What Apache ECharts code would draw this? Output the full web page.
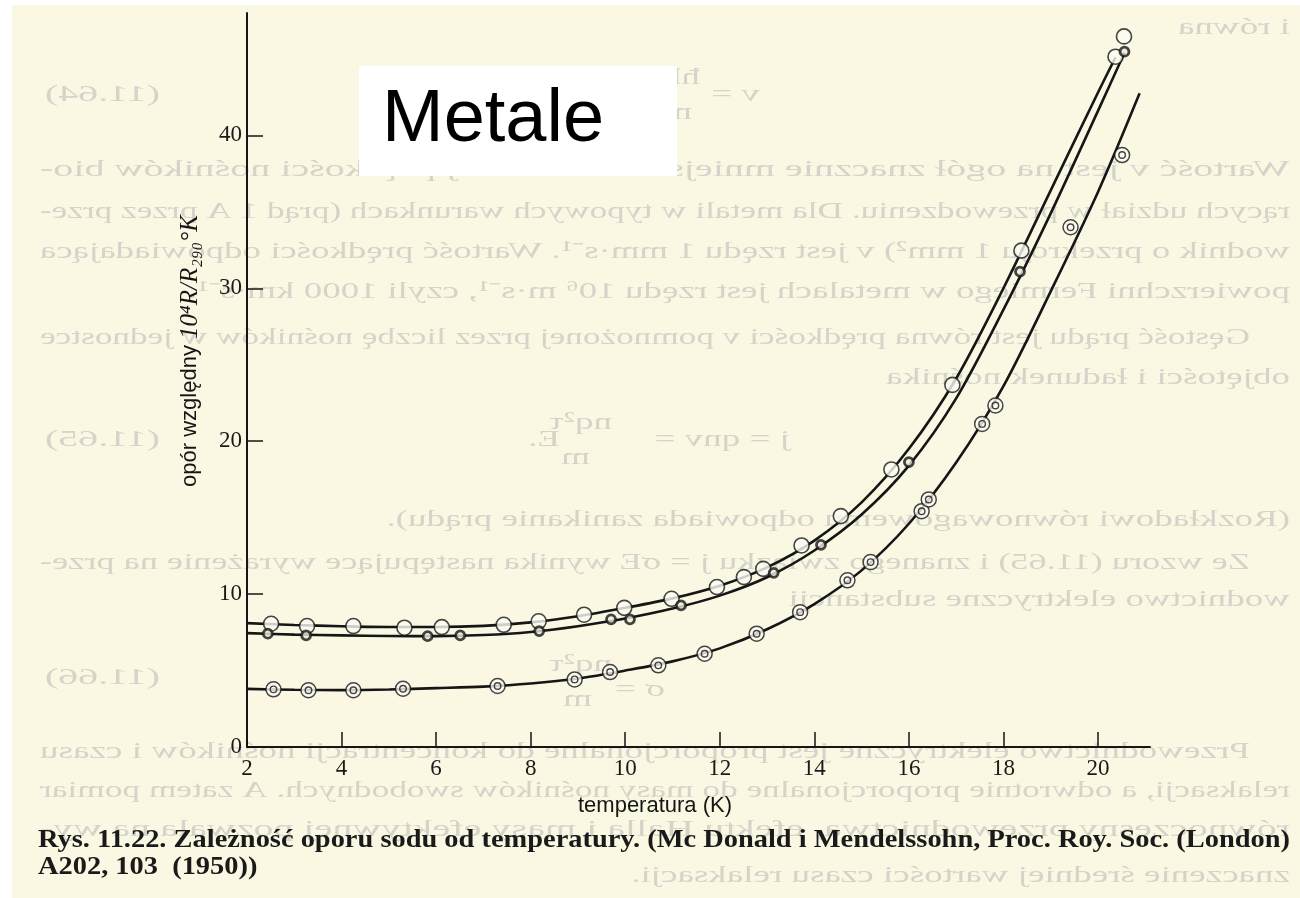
<!DOCTYPE html>
<html><head><meta charset="utf-8">
<script src="https://cdn.jsdelivr.net/npm/echarts@6/dist/echarts.min.js"></script>
<style>html,body{margin:0;padding:0;background:#fff}#c{width:1300px;height:898px}</style>
</head><body><div id="c"></div>
<script>
// ---- data (temperature K, relative resistance 10^4 R/R290K) ----
const xTicks = [2, 4, 6, 8, 10, 12, 14, 16, 18, 20];
const yTicks = [0, 10, 20, 30, 40];

// drawn smooth curves
const curveA = [[2,8.1],[3,7.98],[4,7.9],[5,7.85],[6,7.85],[7,7.92],[8,8.15],[9,8.55],[10,9.1],[11,9.72],[12,10.55],[13,11.75],[14,13.5],[15,16.0],[16,19.5],[17,24.1],[18,30.0],[19,36.4],[20,42.8],[20.37,45.1]];
const curveB = [[2,7.45],[3,7.35],[4,7.3],[5,7.26],[6,7.25],[7,7.32],[8,7.52],[9,7.9],[10,8.4],[11,9.05],[12,9.9],[13,11.1],[14,12.85],[15,15.2],[16,18.4],[17,22.8],[18,28.6],[19,34.9],[20,41.6],[20.56,45.4]];
const curveC = [[2,3.8],[3,3.74],[4,3.72],[5,3.76],[6,3.85],[7,3.95],[8,4.15],[9,4.48],[10,5.0],[11,5.6],[12,6.45],[13,7.7],[14,9.35],[15,11.55],[16,14.6],[17,18.6],[18,23.6],[19,29.8],[20,36.3],[20.88,42.75]];

// measured points
const pointsA = [[2.51,8.06],[3.27,7.91],[4.25,7.91],[5.33,7.8],[6.12,7.84],[7.43,7.99],[8.17,8.22],[9.13,8.65],[9.98,9.1],[10.98,9.69],[11.94,10.46],[12.51,11.11],[12.92,11.65],[13.73,13.18],[14.56,15.1],[15.63,18.15],[16.92,23.68],[18.38,32.46],[20.37,45.14],[20.55,46.47]];
const pointsB = [[2.44,7.41],[3.25,7.3],[5.82,7.25],[6.51,7.3],[8.18,7.58],[9.7,8.35],[10.1,8.35],[11.18,9.26],[13.14,11.39],[14.14,13.22],[16.0,18.63],[18.35,31.09],[20.56,45.47]];
const pointsC = [[2.56,3.77],[3.3,3.71],[4.25,3.71],[5.3,3.81],[7.3,3.99],[8.93,4.42],[9.68,4.9],[10.7,5.34],[11.68,6.1],[12.78,7.41],[13.7,8.82],[14.7,10.9],[15.19,12.09],[16.27,15.42],[16.42,16.19],[17.55,21.13],[17.83,22.33],[19.42,33.99],[20.51,38.71]];

// texts
const yTitleA = 'opór względny ';
const yTitleB = '10⁴R/R₂₉₀°K';
const xTitle = 'temperatura (K)';
const boxTitle = 'Metale';
const caption1 = 'Rys. 11.22. Zależność oporu sodu od temperatury. (Mc Donald i Mendelssohn, Proc. Roy. Soc. (London)';
const caption2 = 'A202, 103  (1950))';

// faint show-through text of the reverse page (mirrored)
const backLines = [
  ['i równa', 28, 1290, 0],
  ['(11.64)', 95, 160, 115],
  ['Wartość v jest na ogół znacznie mniejsza od średniej prędkości nośników bio-', 170, 1290, 1250],
  ['rących udział w przewodzeniu. Dla metali w typowych warunkach (prąd 1 A przez prze-', 212, 1290, 1250],
  ['wodnik o przekroju 1 mm²) v jest rzędu 1 mm·s⁻¹. Wartość prędkości odpowiadająca', 252, 1290, 1250],
  ['powierzchni Fermiego w metalach jest rzędu 10⁶ m·s⁻¹, czyli 1000 km·s⁻¹.', 292, 1290, 0],
  ['Gęstość prądu jest równa prędkości v pomnożonej przez liczbę nośników w jednostce', 338, 1250, 1210],
  ['objętości i ładunek nośnika', 378, 1290, 0],
  ['(11.65)', 440, 160, 115],
  ['j = qnv =', 440, 790, 0],
  ['E.', 440, 560, 0],
  ['(Rozkładowi równowagowemu odpowiada zanikanie prądu).', 520, 1290, 0],
  ['Ze wzoru (11.65) i znanego związku j = σE wynika następujące wyrażenie na prze-', 563, 1250, 1210],
  ['wodnictwo elektryczne substancji', 600, 1290, 0],
  ['(11.66)', 678, 160, 115],
  ['σ =', 690, 665, 0],
  ['Przewodnictwo elektryczne jest proporcjonalne do koncentracji nośników i czasu', 752, 1250, 1210],
  ['relaksacji, a odwrotnie proporcjonalne do masy nośników swobodnych. A zatem pomiar', 791, 1290, 1250],
  ['równoczesny przewodnictwa, efektu Halla i masy efektywnej pozwala na wy-', 830, 1290, 1250],
  ['znaczenie średniej wartości czasu relaksacji.', 876, 1290, 0]
];
const backFrac = [['nq²τ', 423, 612], ['m', 458, 590], ['nq²τ', 665, 612], ['m', 700, 592], ['ħk', 78, 700], ['m', 113, 692], ['v =', 95, 760]];

// ---- helpers ----
const mctx = document.createElement('canvas').getContext('2d');
function tw(t, font) { mctx.font = font; return mctx.measureText(t).width; }
const BF = '24px "Liberation Serif"';
const BCOL = '#d4d4cb';
let ks = [];
backLines.forEach(l => { if (l[3] > 200) ks.push(l[3] / tw(l[0], BF)); });
const kAvg = ks.reduce((a, b) => a + b, 0) / ks.length;

const graphics = [];
graphics.push({type:'rect', shape:{x:0,y:0,width:12,height:898}, style:{fill:'#ffffff'}, z:-5, silent:true});
graphics.push({type:'rect', shape:{x:0,y:0,width:1300,height:5}, style:{fill:'#ffffff'}, z:-5, silent:true});
backLines.forEach(l => {
  const w = tw(l[0], BF);
  const k = l[3] > 0 ? l[3] / w : kAvg;
  graphics.push({type:'text', x:l[2], y:l[1], scaleX:-k, z:-4, silent:true,
    style:{text:l[0], font:BF, fill:BCOL, textAlign:'left', textVerticalAlign:'middle'}});
});
backFrac.forEach(f => {
  graphics.push({type:'text', x:f[2], y:f[1], scaleX:-kAvg, z:-4, silent:true,
    style:{text:f[0], font:BF, fill:BCOL, textAlign:'left', textVerticalAlign:'middle'}});
});
// Metale box
graphics.push({type:'rect', shape:{x:359,y:66,width:318,height:110}, style:{fill:'#ffffff'}, z:10, silent:true});
graphics.push({type:'text', x:382, y:121, z:11, silent:true,
  style:{text:boxTitle, font:'74px "Liberation Sans"', fill:'#000', textAlign:'left', textVerticalAlign:'middle'}});
// y title
graphics.push({type:'text', x:190, y:351, rotation:Math.PI/2, z:5, silent:true,
  style:{text:'{a|' + yTitleA + '}{b|' + yTitleB + '}', textAlign:'center', textVerticalAlign:'middle',
    rich:{a:{fontFamily:'Liberation Sans', fontSize:22, fill:'#151515'},
          b:{fontFamily:'Liberation Serif', fontStyle:'italic', fontSize:25, fill:'#151515'}}}});
// x title
graphics.push({type:'text', x:655, y:806, z:5, silent:true,
  style:{text:xTitle, font:'22px "Liberation Sans"', fill:'#151515', textAlign:'center', textVerticalAlign:'middle'}});
// caption
const CF = 'bold 25px "Liberation Serif"';
const kc = 1252 / tw(caption1, CF);
graphics.push({type:'text', x:38, y:841, scaleX:kc, z:5, silent:true,
  style:{text:caption1, font:CF, fill:'#1a1a1a', textAlign:'left', textVerticalAlign:'middle'}});
graphics.push({type:'text', x:38, y:868, scaleX:kc, z:5, silent:true,
  style:{text:caption2, font:CF, fill:'#1a1a1a', textAlign:'left', textVerticalAlign:'middle'}});

const INK = '#161616';
const lineStyle = {color:INK, width:2.6};
function curve(d){ return {type:'line', data:d, smooth:0.3, showSymbol:false, symbol:'none', lineStyle:lineStyle, z:3, silent:true}; }

const chart = echarts.init(document.getElementById('c'), null, {renderer:'canvas'});
chart.setOption({
  backgroundColor:'#faf7e3',
  animation:false,
  graphic:{elements:graphics},
  grid:{left:247, right:150, top:13, bottom:151},
  xAxis:{type:'value', min:2, max:21.1, interval:2,
    axisLine:{show:true, onZero:false, lineStyle:{color:INK, width:2}},
    axisTick:{show:true, inside:true, length:15, customValues:xTicks, lineStyle:{color:INK, width:1.5}},
    axisLabel:{customValues:xTicks, fontFamily:'Liberation Serif', fontSize:23, color:'#1a1a1a', margin:10},
    splitLine:{show:false}},
  yAxis:{type:'value', min:0, max:48, interval:10,
    axisLine:{show:true, onZero:false, lineStyle:{color:INK, width:2}},
    axisTick:{show:true, inside:true, length:16, customValues:yTicks, lineStyle:{color:INK, width:1.5}},
    axisLabel:{customValues:yTicks, fontFamily:'Liberation Serif', fontSize:23, color:'#1a1a1a', margin:5},
    splitLine:{show:false}},
  series:[
    curve(curveA), curve(curveB), curve(curveC),
    {type:'scatter', data:pointsA, symbol:'circle', symbolSize:15, z:5, silent:true,
      itemStyle:{color:'#fcfbf2', borderColor:INK, borderWidth:1.6}},
    {type:'scatter', data:pointsB, symbol:'circle', symbolSize:9, z:5, silent:true,
      itemStyle:{color:'#efeddc', borderColor:INK, borderWidth:2.8}},
    {type:'scatter', data:pointsC, symbol:'circle', symbolSize:15, z:5, silent:true,
      itemStyle:{color:'#fcfbf2', borderColor:INK, borderWidth:1.5}},
    {type:'scatter', data:pointsC, symbol:'circle', symbolSize:6.5, z:6, silent:true,
      itemStyle:{color:'rgba(0,0,0,0)', borderColor:INK, borderWidth:1.4}}
  ]
});
</script>
</body></html>
